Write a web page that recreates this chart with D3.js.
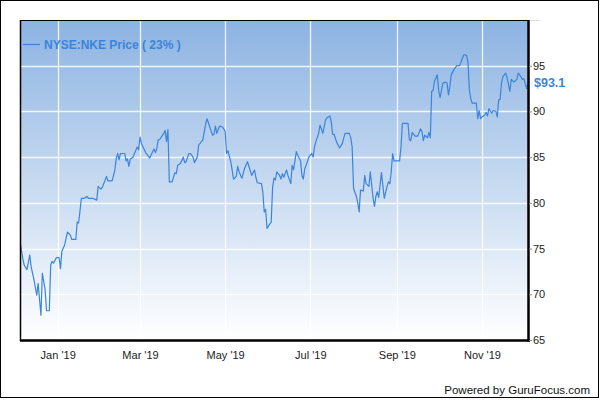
<!DOCTYPE html>
<html><head><meta charset="utf-8">
<script src="https://cdn.jsdelivr.net/npm/d3@7"></script>
<style>
body{margin:0;background:#fff;}
svg{display:block;font-family:"Liberation Sans",Arial,sans-serif;}
</style></head>
<body><svg id="c" width="600" height="400"></svg>
<script>
const dates = ["2018-12-05","2018-12-07","2018-12-08","2018-12-10","2018-12-12","2018-12-13","2018-12-15","2018-12-17","2018-12-18","2018-12-20","2018-12-21","2018-12-23","2018-12-24","2018-12-26","2018-12-27","2018-12-28","2018-12-29","2018-12-31",
"2019-01-02","2019-01-03","2019-01-04","2019-01-06","2019-01-08","2019-01-10","2019-01-11","2019-01-14","2019-01-15","2019-01-16","2019-01-18","2019-01-20","2019-01-22","2019-01-23","2019-01-26","2019-01-29","2019-01-30",
"2019-02-01","2019-02-02","2019-02-05","2019-02-06","2019-02-09","2019-02-11","2019-02-12","2019-02-13","2019-02-14","2019-02-15","2019-02-18","2019-02-19","2019-02-20","2019-02-21","2019-02-22","2019-02-24","2019-02-25","2019-02-27","2019-02-28",
"2019-03-01","2019-03-02","2019-03-05","2019-03-06","2019-03-08","2019-03-10","2019-03-11","2019-03-12","2019-03-13","2019-03-14","2019-03-15","2019-03-18","2019-03-19","2019-03-20","2019-03-21","2019-03-22","2019-03-24","2019-03-26","2019-03-27","2019-03-28","2019-03-30",
"2019-04-01","2019-04-02","2019-04-03","2019-04-05","2019-04-06","2019-04-08","2019-04-09","2019-04-11","2019-04-12","2019-04-15","2019-04-17","2019-04-18","2019-04-20","2019-04-22","2019-04-23","2019-04-24","2019-04-25","2019-04-27","2019-04-29","2019-04-30",
"2019-05-01","2019-05-02","2019-05-03","2019-05-05","2019-05-06","2019-05-07","2019-05-09","2019-05-10","2019-05-11","2019-05-13","2019-05-15","2019-05-17","2019-05-18","2019-05-20","2019-05-22","2019-05-23","2019-05-24","2019-05-27","2019-05-28","2019-05-29","2019-05-30","2019-05-31",
"2019-06-02","2019-06-03","2019-06-04","2019-06-05","2019-06-06","2019-06-07","2019-06-09","2019-06-10","2019-06-11","2019-06-12","2019-06-14","2019-06-15","2019-06-17","2019-06-18","2019-06-19","2019-06-21","2019-06-22","2019-06-24","2019-06-25","2019-06-26","2019-06-27","2019-06-28","2019-06-30",
"2019-07-02","2019-07-03","2019-07-04","2019-07-05","2019-07-07","2019-07-08","2019-07-10","2019-07-12","2019-07-13","2019-07-15","2019-07-16","2019-07-17","2019-07-18","2019-07-20","2019-07-21","2019-07-22","2019-07-24","2019-07-25","2019-07-26","2019-07-29","2019-07-30","2019-07-31",
"2019-08-01","2019-08-03","2019-08-04","2019-08-05","2019-08-06","2019-08-08","2019-08-09","2019-08-10","2019-08-12","2019-08-13","2019-08-15","2019-08-16","2019-08-17","2019-08-18","2019-08-19","2019-08-21","2019-08-23","2019-08-25","2019-08-26","2019-08-27","2019-08-28","2019-08-29","2019-08-30",
"2019-09-03","2019-09-04","2019-09-05","2019-09-09","2019-09-10","2019-09-11","2019-09-12","2019-09-14","2019-09-16","2019-09-18","2019-09-19","2019-09-20","2019-09-21","2019-09-23","2019-09-24","2019-09-25","2019-09-26","2019-09-27","2019-09-28","2019-09-30",
"2019-10-01","2019-10-02","2019-10-04","2019-10-06","2019-10-07","2019-10-08","2019-10-09","2019-10-10","2019-10-12","2019-10-14","2019-10-16","2019-10-18","2019-10-19","2019-10-20","2019-10-21","2019-10-22","2019-10-23","2019-10-24","2019-10-25","2019-10-28","2019-10-29","2019-10-30","2019-10-31",
"2019-11-01","2019-11-03","2019-11-04","2019-11-05","2019-11-06","2019-11-08","2019-11-09","2019-11-11","2019-11-12","2019-11-13","2019-11-14","2019-11-15","2019-11-16","2019-11-18","2019-11-19","2019-11-21","2019-11-22","2019-11-24","2019-11-26","2019-11-27","2019-11-28","2019-11-30",
"2019-12-01","2019-12-03","2019-12-04"];
const prices = [75.8,73.9,73.2,72.7,74.3,73.0,71.6,69.9,71.2,67.7,72.3,70.5,68.2,68.2,73.2,73.6,73.4,74.0,
74.0,72.8,74.7,75.4,76.8,76.5,76.0,76.0,77.9,77.8,80.5,80.5,80.7,80.5,80.5,80.3,81.8,
81.5,81.7,82.9,82.4,82.4,83.6,84.9,85.4,84.7,85.4,85.4,84.6,84.8,84.0,84.8,85.0,85.4,86.1,85.8,
87.2,86.5,85.5,85.3,84.9,85.6,85.9,85.5,85.9,86.9,86.9,87.6,87.9,86.7,88.0,82.3,82.3,83.3,83.2,84.1,84.3,
85.0,84.4,84.5,85.4,85.4,85.0,84.4,85.0,86.3,86.9,88.6,89.2,88.3,87.4,87.5,88.4,87.6,88.4,88.3,88.1,
87.8,85.4,85.7,84.5,83.6,82.6,82.9,84.0,83.4,82.7,83.8,84.5,84.0,83.0,83.6,82.8,82.2,82.1,81.2,79.0,79.3,77.2,
77.7,77.9,81.7,82.7,82.5,83.4,83.0,82.6,83.2,82.8,83.6,83.0,82.1,84.1,83.6,85.6,85.2,84.6,83.0,82.6,83.7,84.1,85.0,
85.4,85.0,86.1,86.7,87.6,88.5,87.6,89.1,89.3,89.5,88.9,87.5,87.5,86.6,86.3,86.0,86.5,87.1,87.6,87.6,87.1,86.1,
81.6,80.7,80.0,79.0,81.4,81.3,83.0,82.1,81.8,83.4,80.5,79.6,80.7,81.2,80.6,83.3,80.5,81.8,82.3,82.1,83.4,85.4,84.6,
84.6,86.1,88.7,88.7,86.9,86.8,87.7,87.3,87.3,88.1,87.8,86.8,87.4,87.1,87.7,87.1,92.2,92.3,93.3,94.0,
92.3,91.5,93.1,93.2,93.1,91.8,92.7,94.0,94.6,95.0,95.0,95.8,96.2,96.2,96.1,95.4,92.3,91.4,90.9,90.9,89.2,90.1,89.2,
89.4,89.6,89.9,89.5,90.3,89.8,90.1,90.0,89.4,91.3,91.3,93.1,93.8,94.2,93.7,92.2,93.5,93.2,93.5,94.2,94.0,93.5,
93.6,92.5,93.1];
const yTicks = [65,70,75,80,85,90,95];
const xTickDates = ["2019-01-01","2019-03-01","2019-05-01","2019-07-01","2019-09-01","2019-11-01"];
const xTickLabels = ["Jan '19","Mar '19","May '19","Jul '19","Sep '19","Nov '19"];
const legendText = "NYSE:NKE Price ( 23% )";
const lastLabel = "$93.1";
const footer = "Powered by GuruFocus.com";

const parse = d3.timeParse("%Y-%m-%d");
const data = dates.map((d,i)=>({date:parse(d), v:prices[i]}));
const L=20,T=20,R=528,B=340;
const x = d3.scaleTime().domain([parse("2018-12-05"),parse("2019-12-04")]).range([L,R]);
const y = d3.scaleLinear().domain([65,100]).range([B,T]);
const svg = d3.select("#c");
const defs = svg.append("defs");
const g = defs.append("linearGradient").attr("id","bg").attr("x1",0).attr("y1",0).attr("x2",0).attr("y2",1);
g.append("stop").attr("offset","0%").attr("stop-color","#8cb3e2");
g.append("stop").attr("offset","100%").attr("stop-color","#ffffff");
defs.append("clipPath").attr("id","clip").append("rect").attr("x",L).attr("y",T).attr("width",R-L).attr("height",B-T);

svg.append("rect").attr("x",0.5).attr("y",0.5).attr("width",598).attr("height",397).attr("fill","#fff").attr("stroke","#000");
svg.append("rect").attr("x",L).attr("y",T).attr("width",R-L).attr("height",B-T).attr("fill","url(#bg)");
svg.append("line").attr("x1",L).attr("x2",540).attr("y1",T+0.5).attr("y2",T+0.5).attr("stroke","#ddd");

// grid
svg.append("g").selectAll("line").data(yTicks.filter(t=>t>65)).join("line")
  .attr("x1",L).attr("x2",R).attr("y1",d=>Math.round(y(d))+0.5).attr("y2",d=>Math.round(y(d))+0.5)
  .attr("stroke","#fff").attr("stroke-opacity",0.85).attr("stroke-width",1.3);
svg.append("g").selectAll("line").data(xTickDates).join("line")
  .attr("x1",d=>Math.round(x(parse(d)))+0.5).attr("x2",d=>Math.round(x(parse(d)))+0.5).attr("y1",T).attr("y2",B)
  .attr("stroke","#fff").attr("stroke-opacity",0.85).attr("stroke-width",1.3);

// line
svg.append("path").datum(data).attr("clip-path","url(#clip)")
  .attr("d",d3.line().x(d=>x(d.date)).y(d=>y(d.v)))
  .attr("fill","none").attr("stroke","#3b84dc").attr("stroke-width",1.2).attr("stroke-linejoin","round");

// plot border
svg.append("line").attr("x1",L+0.5).attr("x2",L+0.5).attr("y1",T).attr("y2",B+1).attr("stroke","#000").attr("stroke-width",1.5);
svg.append("line").attr("x1",L).attr("x2",R).attr("y1",T+0.5).attr("y2",T+0.5).attr("stroke","#000").attr("stroke-width",1);
svg.append("line").attr("x1",L).attr("x2",R+2).attr("y1",B+0.5).attr("y2",B+0.5).attr("stroke","#000").attr("stroke-width",2.5);
svg.append("line").attr("x1",R+0.5).attr("x2",R+0.5).attr("y1",T).attr("y2",B+1.5).attr("stroke","#000").attr("stroke-width",2.5);

// right axis
const ya = d3.axisRight(y).tickValues(yTicks).tickSize(3).tickPadding(1).tickFormat(d3.format("d"));
const yg = svg.append("g").attr("transform",`translate(${R+1},0)`).call(ya);
yg.select(".domain").remove();
yg.selectAll(".tick line").attr("stroke","#888");
yg.selectAll("text").attr("font-size",11).attr("fill","#222").attr("font-family","'Liberation Sans',Arial,sans-serif");

// bottom axis
const xa = d3.axisBottom(x).tickValues(xTickDates.map(parse)).tickSize(0).tickPadding(11)
  .tickFormat((d,i)=>xTickLabels[i]);
const xg = svg.append("g").attr("transform",`translate(0,${B})`).call(xa);
xg.select(".domain").remove();
xg.selectAll("text").attr("font-size",11).attr("fill","#222").attr("font-family","'Liberation Sans',Arial,sans-serif");

// legend
svg.append("line").attr("x1",23).attr("x2",40).attr("y1",44.5).attr("y2",44.5).attr("stroke","#3b84dc").attr("stroke-width",1.2);
svg.append("text").attr("x",44).attr("y",48.5).attr("font-size",12).attr("font-weight","bold").attr("fill","#3b84dc").text(legendText);

// last value label
const last = data[data.length-1];
svg.append("text").attr("x",534).attr("y",y(last.v)).attr("dy","0.35em").attr("font-size",12.5).attr("font-weight","bold").attr("fill","#3b84dc").text(lastLabel);

// footer
svg.append("text").attr("x",590).attr("y",394).attr("text-anchor","end").attr("font-size",11.5).attr("fill","#111").text(footer);
</script></body></html>
